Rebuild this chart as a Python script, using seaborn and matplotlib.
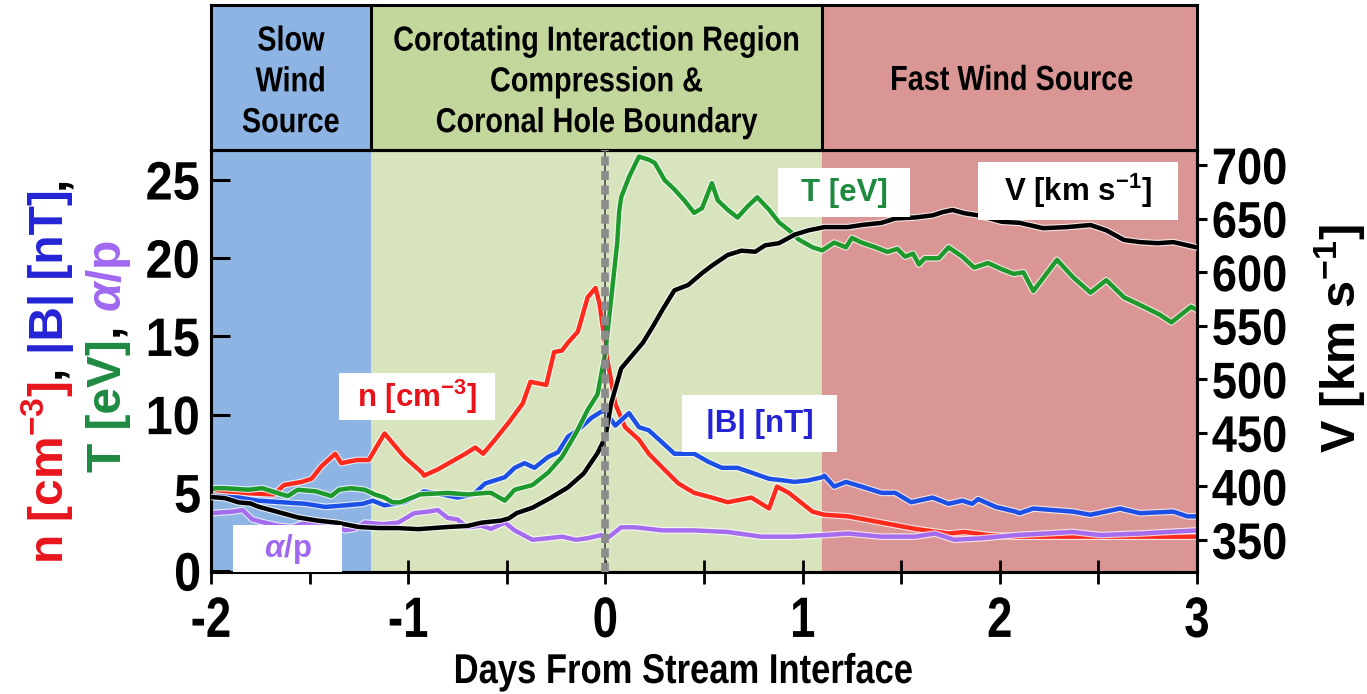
import matplotlib
matplotlib.use("Agg")
import matplotlib.pyplot as plt
import matplotlib.patheffects as pe
from matplotlib.patches import Rectangle
from matplotlib.transforms import IdentityTransform, Affine2D
from matplotlib.ticker import MultipleLocator
import pandas as pd
import seaborn as sns

# ---------------------------------------------------------------- data
# proton density n [cm^-3]
days_n = [-2.00, -1.98, -1.86, -1.68, -1.63, -1.54, -1.49, -1.44, -1.37, -1.34,
          -1.26, -1.20, -1.12, -1.02, -0.93, -0.92, -0.85, -0.78, -0.71, -0.66,
          -0.62, -0.56, -0.49, -0.42, -0.38, -0.30, -0.26, -0.22, -0.19, -0.14,
          -0.09, -0.05, -0.03, 0.01, 0.05, 0.10, 0.17, 0.22, 0.29, 0.37,
          0.45, 0.54, 0.62, 0.74, 0.83, 0.87, 0.93, 1.00, 1.05, 1.11,
          1.23, 1.40, 1.57, 1.74, 1.82, 1.94, 2.08, 2.51, 3.00]
dens = [5.3, 5.2, 5.0, 4.9, 5.5, 5.7, 5.9, 6.7, 7.5, 6.9,
        7.1, 7.1, 8.8, 7.3, 6.3, 6.1, 6.5, 7.0, 7.5, 7.9,
        7.5, 8.4, 9.5, 10.7, 12.1, 11.9, 14.0, 14.1, 14.6, 15.3,
        17.5, 18.1, 17.1, 13.5, 10.7, 9.2, 8.4, 7.5, 6.6, 5.6,
        5.0, 4.7, 4.4, 4.7, 4.0, 5.4, 5.0, 4.3, 3.8, 3.6,
        3.5, 3.1, 2.7, 2.4, 2.5, 2.3, 2.2, 2.2, 2.2]

# proton temperature T [eV]
days_t = [-2.00, -1.98, -1.93, -1.81, -1.74, -1.64, -1.61, -1.56, -1.47, -1.39,
          -1.35, -1.29, -1.22, -1.17, -1.12, -1.08, -1.04, -0.94, -0.80, -0.70,
          -0.60, -0.58, -0.51, -0.46, -0.37, -0.29, -0.22, -0.15, -0.09, -0.04,
          0.00, 0.03, 0.06, 0.07, 0.08, 0.12, 0.17, 0.22, 0.25, 0.30,
          0.35, 0.40, 0.45, 0.49, 0.54, 0.57, 0.62, 0.67, 0.72, 0.77,
          0.83, 0.88, 0.93, 0.98, 1.05, 1.10, 1.16, 1.22, 1.25, 1.30,
          1.37, 1.43, 1.48, 1.52, 1.56, 1.59, 1.62, 1.69, 1.74, 1.81,
          1.87, 1.94, 2.01, 2.07, 2.12, 2.17, 2.29, 2.37, 2.46, 2.54,
          2.63, 2.73, 2.81, 2.87, 2.97, 3.00]
temp = [5.2, 5.3, 5.3, 5.2, 5.3, 4.9, 4.8, 5.2, 5.1, 4.8,
        5.2, 5.3, 5.2, 4.9, 4.7, 4.4, 4.4, 4.9, 5.0, 4.9,
        5.0, 5.0, 4.5, 5.2, 5.5, 6.3, 7.3, 8.8, 10.3, 11.3,
        14.0, 17.5, 21.0, 23.0, 23.9, 25.2, 26.5, 26.3, 26.1, 25.0,
        24.4, 23.7, 22.9, 23.2, 24.8, 23.7, 23.1, 22.6, 23.3, 23.9,
        23.1, 22.3, 21.8, 21.2, 20.7, 20.5, 21.0, 20.7, 21.3, 21.0,
        20.7, 20.4, 20.6, 20.1, 20.3, 19.6, 20.0, 20.0, 20.7, 20.1,
        19.4, 19.7, 19.3, 19.0, 19.1, 17.9, 19.9, 18.8, 17.8, 18.6,
        17.5, 16.9, 16.4, 15.9, 16.9, 16.7]

# magnetic field magnitude |B| [nT]
days_b = [-2.00, -1.86, -1.76, -1.64, -1.52, -1.42, -1.32, -1.23, -1.18, -1.12,
          -1.02, -0.97, -0.92, -0.83, -0.75, -0.67, -0.61, -0.56, -0.51, -0.46,
          -0.41, -0.36, -0.29, -0.24, -0.19, -0.14, -0.07, -0.02, 0.00, 0.05,
          0.12, 0.17, 0.22, 0.29, 0.35, 0.45, 0.52, 0.59, 0.67, 0.74,
          0.83, 0.90, 0.96, 1.03, 1.10, 1.11, 1.16, 1.22, 1.30, 1.40,
          1.47, 1.55, 1.66, 1.74, 1.81, 1.86, 1.89, 1.98, 2.08, 2.10,
          2.17, 2.27, 2.37, 2.46, 2.61, 2.71, 2.88, 2.95, 3.00]
bmag = [4.8, 4.7, 4.5, 4.4, 4.3, 4.1, 4.2, 4.3, 4.5, 4.2,
        4.4, 4.7, 5.1, 4.9, 4.7, 4.9, 5.6, 5.8, 6.0, 6.6,
        6.9, 6.6, 7.3, 7.6, 8.6, 9.0, 9.8, 10.2, 10.2, 9.3,
        10.1, 9.2, 9.0, 8.2, 7.5, 7.5, 7.0, 6.6, 6.6, 6.3,
        5.9, 5.8, 5.7, 5.8, 6.0, 6.1, 5.4, 5.7, 5.4, 5.0,
        5.0, 4.4, 4.7, 4.3, 4.5, 4.3, 4.6, 4.1, 3.8, 3.7,
        4.0, 3.9, 3.8, 3.6, 4.0, 3.7, 3.8, 3.5, 3.5]

# alpha-to-proton ratio (plotted on the left scale)
days_a = [-2.00, -1.89, -1.84, -1.79, -1.73, -1.66, -1.59, -1.52, -1.44, -1.39,
          -1.32, -1.27, -1.22, -1.13, -1.05, -0.97, -0.90, -0.85, -0.80, -0.75,
          -0.70, -0.63, -0.58, -0.51, -0.46, -0.37, -0.29, -0.22, -0.15, -0.09,
          -0.02, 0.00, 0.05, 0.08, 0.15, 0.29, 0.45, 0.62, 0.79, 0.96,
          1.11, 1.23, 1.40, 1.57, 1.67, 1.77, 1.91, 2.08, 2.37, 2.51,
          2.71, 3.00]
alpha_p = [3.7, 3.8, 3.9, 3.3, 3.1, 2.9, 2.8, 3.1, 3.1, 3.1,
           2.6, 2.7, 3.1, 3.0, 3.1, 3.7, 3.8, 3.9, 3.4, 3.3,
           2.8, 2.9, 2.7, 3.1, 2.6, 2.0, 2.1, 2.2, 2.0, 2.1,
           2.3, 2.0, 2.5, 2.8, 2.8, 2.6, 2.6, 2.5, 2.2, 2.2,
           2.3, 2.4, 2.2, 2.2, 2.4, 2.0, 2.1, 2.3, 2.5, 2.3,
           2.4, 2.6]

# solar wind speed V [km s^-1] (right scale)
days_v = [-2.00, -1.93, -1.86, -1.80, -1.76, -1.66, -1.56, -1.46, -1.36, -1.25,
          -1.15, -1.05, -0.95, -0.80, -0.70, -0.63, -0.53, -0.49, -0.45, -0.37,
          -0.28, -0.19, -0.11, -0.04, 0.00, 0.03, 0.08, 0.13, 0.19, 0.24,
          0.29, 0.35, 0.42, 0.49, 0.54, 0.62, 0.69, 0.76, 0.81, 0.88,
          0.96, 1.03, 1.11, 1.23, 1.30, 1.40, 1.47, 1.57, 1.66, 1.71,
          1.76, 1.82, 1.89, 2.01, 2.10, 2.22, 2.34, 2.46, 2.54, 2.63,
          2.71, 2.80, 2.88, 3.00]
speed = [390, 389, 385, 384, 381, 376, 371, 368, 366, 362,
         361, 361, 360, 362, 363, 366, 368, 370, 375, 380,
         389, 399, 412, 431, 446, 478, 510, 521, 534, 549,
         565, 583, 588, 599, 606, 616, 620, 619, 625, 627,
         635, 639, 642, 642, 644, 646, 650, 651, 653, 656,
         658, 655, 653, 647, 646, 641, 642, 644, 639, 630,
         628, 627, 628, 623]

# wind regimes along the time axis
region_edges = [-2.0, -1.19, 1.10, 3.0]
region_titles = ["Slow\nWind\nSource",
                 "Corotating Interaction Region\nCompression &\nCoronal Hole Boundary",
                 "Fast Wind Source"]

x_ticks = [-2, -1, 0, 1, 2, 3]
left_ticks = [0, 5, 10, 15, 20, 25]
right_ticks = [350, 400, 450, 500, 550, 600, 650, 700]

# ---------------------------------------------------------------- style
sns.set_theme(style="ticks")
FONT = ["Liberation Sans", "DejaVu Sans"]
plt.rcParams["font.family"] = FONT
plt.rcParams["font.weight"] = "bold"
plt.rcParams["axes.unicode_minus"] = False
plt.rcParams["mathtext.fontset"] = "custom"
plt.rcParams["mathtext.rm"] = "Liberation Sans:bold"
plt.rcParams["mathtext.it"] = "Liberation Sans:italic:bold"
plt.rcParams["mathtext.bf"] = "Liberation Sans:bold"
plt.rcParams["mathtext.default"] = "regular"


class Narrow(pe.AbstractPathEffect):
    """Squeeze glyph outlines along the writing direction (condensed face)."""

    def __init__(self, factor=0.82):
        super().__init__()
        self.factor = factor

    def draw_path(self, renderer, gc, tpath, affine, rgbFace=None):
        if len(tpath.vertices) == 0:
            renderer.draw_path(gc, tpath, affine, rgbFace)
            return
        ext = tpath.get_extents()
        cx = 0.5 * (ext.x0 + ext.x1)
        squeeze = Affine2D().translate(-cx, 0).scale(self.factor, 1).translate(cx, 0)
        renderer.draw_path(gc, tpath, squeeze + affine, rgbFace)


band_plot = ["#8DB4E2", "#D7E4BD", "#D99694"]
band_head = ["#8DB4E2", "#C3D69B", "#D99694"]

C_N, C_T, C_B, C_A, C_V = "#FF2A1C", "#1E9A2C", "#1C4FE6", "#A66CF0", "#000000"
L_N, L_T, L_B, L_A = "#E8141C", "#1E8A40", "#2424D6", "#A068F0"

W, H = 1367, 694
fig = plt.figure(figsize=(W / 100, H / 100), dpi=100)


def fx(px):
    return px / W


def fy(py):
    return 1 - py / H


ax = fig.add_axes([fx(211), fy(572), fx(1197) - fx(211), fy(150) - fy(572)])
head = fig.add_axes([fx(211), fy(150), fx(1197) - fx(211), fy(5) - fy(150)])

# ---------------------------------------------------------------- header strip
head.set_xlim(-2, 3)
head.set_ylim(0, 1)
head_y = [0.47, 0.47, 0.48]
for i in range(3):
    head.axvspan(region_edges[i], region_edges[i + 1], color=band_head[i], lw=0)
    head.text((region_edges[i] + region_edges[i + 1]) / 2 + (0.0 if i < 2 else 0.01),
              head_y[i], region_titles[i], ha="center", va="center", fontsize=25,
              fontweight="bold", linespacing=1.3, color="black",
              path_effects=[Narrow(0.83)])
for e in region_edges[1:3]:
    head.axvline(e, color="black", lw=2.2)
head.set_xticks([])
head.set_yticks([])
for s in head.spines.values():
    s.set_linewidth(2.2)
    s.set_color("black")

# ---------------------------------------------------------------- main panel
for i in range(3):
    ax.axvspan(region_edges[i], region_edges[i + 1], color=band_plot[i], lw=0, zorder=0)

halo = [pe.Stroke(linewidth=4.8, foreground="white", alpha=0.75), pe.Normal()]

series = [
    (days_n, dens, C_N),
    (days_b, bmag, C_B),
    (days_t, temp, C_T),
    (days_a, alpha_p, C_A),
]
for d, v, c in series:
    frame = pd.DataFrame({"day": d, "value": v})
    sns.lineplot(data=frame, x="day", y="value", ax=ax, color=c, lw=3.2,
                 estimator=None, sort=False, path_effects=halo, zorder=3)

ax2 = ax.twinx()
frame_v = pd.DataFrame({"day": days_v, "value": speed})
sns.lineplot(data=frame_v, x="day", y="value", ax=ax2, color=C_V, lw=3.2,
             estimator=None, sort=False, path_effects=halo, zorder=3)

# stream interface marker
ax2.axvline(0, color="#555555", lw=1.3, zorder=5)
ax2.axvline(0, color="#8C8C8C", lw=5.5, ls=(0, (1.2, 0.7)), zorder=6)

ax.set_xlim(-2, 3)
ax.set_ylim(-0.06, 26.92)
ax2.set_ylim(320, 714)

ax.set_xticks(x_ticks)
ax.xaxis.set_minor_locator(MultipleLocator(0.5))
ax.set_yticks(left_ticks)
ax2.set_yticks(right_ticks)

ax.tick_params(axis="y", which="both", direction="in", length=14, width=2.2,
               labelsize=39, pad=6, left=True, right=False, colors="black")
ax.tick_params(axis="x", which="both", direction="inout", length=17, width=2.0,
               labelsize=41, pad=8, bottom=True, top=False, colors="black")
ax2.tick_params(axis="y", direction="out", length=7, width=2.2, labelsize=37,
                pad=0, right=True, left=False, colors="black")
for a in (ax, ax2):
    for s in a.spines.values():
        s.set_linewidth(2.2)
        s.set_color("black")

ax.set_xlabel("Days From Stream Interface", fontsize=30, fontweight="bold",
              color="black", path_effects=[Narrow(0.83)])
ax.xaxis.set_label_coords(0.479, -0.237)
ax.xaxis.label.set_va("center")
ax.set_ylabel("")

ax2.set_ylabel("V [km s$^{-1}$]", fontsize=35, fontweight="bold", color="black")
ax2.yaxis.set_label_coords((1340 - 211) / 986, (572 - 338) / 422)
ax2.yaxis.label.set_va("center")
ax2.yaxis.label.set_ha("center")
ax2.yaxis.label.set_rotation(90)

# ---------------------------------------------------------------- series tags
tags = [
    ("n [cm$^{-3}$]", L_N, (-1.351, -0.560, 9.65, 12.66)),
    ("$\\mathit{\\alpha}$/p", L_A, (-1.888, -1.336, -0.06, 2.94)),
    ("|B| [nT]", L_B, (0.388, 1.174, 7.61, 11.25)),
    ("T [eV]", L_T, (0.875, 1.545, 22.63, 25.77)),
    ("V [km s$^{-1}$]", "black", (1.889, 2.904, 22.44, 26.15)),
]
for txt, col, (x0, x1, y0, y1) in tags:
    ax2.add_patch(Rectangle((x0, y0), x1 - x0, y1 - y0, transform=ax.transData,
                            facecolor="white", edgecolor="none", zorder=7))
    ax2.text((x0 + x1) / 2, (y0 + y1) / 2, txt, transform=ax.transData,
             ha="center", va="center", fontsize=22.5, fontweight="bold",
             color=col, zorder=8)

# ---------------------------------------------------------------- left axis title in colours
renderer = fig.canvas.get_renderer()


def stacked_title(pieces, x_px, yc_px, size):
    made = []
    total = 0.0
    for s, c in pieces:
        t = fig.text(0, 0, s, color=c, rotation=90, rotation_mode="anchor",
                     ha="left", va="baseline", fontsize=size, fontweight="bold",
                     transform=IdentityTransform())
        h = t.get_window_extent(renderer).height
        made.append((t, h))
        total += h
    y = (H - yc_px) - total / 2
    for t, h in made:
        t.set_position((x_px, y))
        y += h


stacked_title([("n [cm$^{-3}$]", L_N), (", ", "black"), ("|B| [nT]", L_B), (",", "black")],
              63, 370, 34.5)
stacked_title([("T [eV]", L_T), (", ", "black"), ("$\\mathit{\\alpha}$/p", L_A)],
              121, 356, 34.5)

# condensed numerals on all three scales
for lab in ax.get_xticklabels():
    lab.set_path_effects([Narrow(0.8)])
for lab in ax.get_yticklabels():
    lab.set_path_effects([Narrow(0.9)])
for lab in ax2.get_yticklabels():
    lab.set_path_effects([Narrow(0.88)])

fig.savefig("out.png", dpi=100)
